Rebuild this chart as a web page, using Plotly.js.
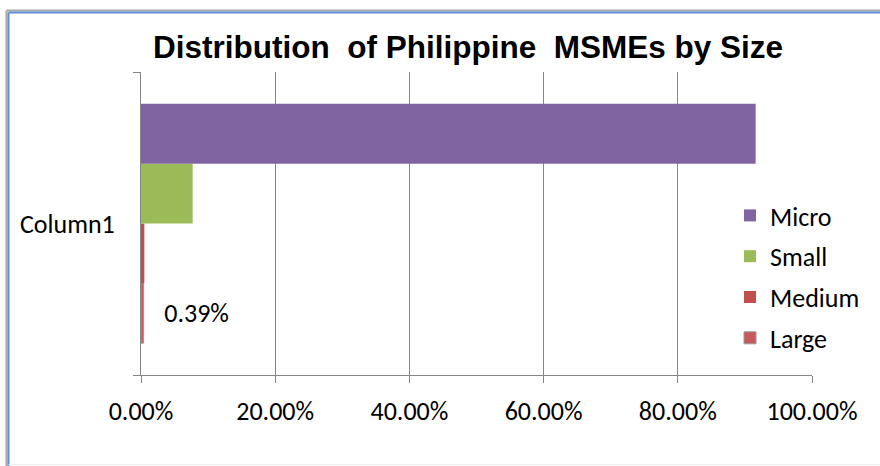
<!DOCTYPE html>
<html>
<head>
<meta charset="utf-8">
<script src="https://cdn.plot.ly/plotly-3.0.1.min.js"></script>
<style>html,body{margin:0;padding:0;background:#fff;}#chart{width:880px;height:466px;}</style>
</head>
<body>
<div id="chart"></div>
<script>
const categories = ['Column1'];
const seriesNames = ['Micro', 'Small', 'Medium', 'Large'];
const microValues = [0.916];
const smallValues = [0.077];
const mediumValues = [0.005];
const largeValues = [0.0039];
const largeLabels = ['0.39%'];
const xTickValues = [0, 0.2, 0.4, 0.6, 0.8, 1.0];
const xTickLabels = ['0.00%', '20.00%', '40.00%', '60.00%', '80.00%', '100.00%'];

const colors = {Micro: '#8064A2', Small: '#9BBB59', Medium: '#C0504D', Large: '#C65A5E'};
const legendRanks = {Micro: 1, Small: 2, Medium: 3, Large: 4};
const tickFont = {family: 'Carlito, "Liberation Sans Narrow", "Liberation Sans", Arial, sans-serif', size: 26, color: '#000'};

function barTrace(name, values, extra) {
  return Object.assign({
    type: 'bar', orientation: 'h', name: name, legendgroup: name,
    legendrank: legendRanks[name],
    x: values, y: categories,
    marker: {color: colors[name]},
    hoverinfo: 'skip'
  }, extra || {});
}

const traces = [
  barTrace('Large', largeValues, {
    marker: {color: colors.Large, line: {color: '#9a9a9a', width: 1}},
    text: largeLabels.map(t => '\u00a0\u00a0\u00a0' + t),
    textposition: 'outside', cliponaxis: false,
    textfont: tickFont
  }),
  barTrace('Medium', mediumValues),
  barTrace('Small', smallValues),
  barTrace('Micro', microValues)
];

const L = 141, R = 812, T = 72, B = 375;
function px2x(p) { return (p - L) / (R - L); }
function px2y(p) { return 1 - (p - T) / (B - T); }

const layout = {
  width: 880, height: 466,
  margin: {l: L, r: 880 - R, t: T, b: 466 - B, pad: 0},
  paper_bgcolor: '#fff', plot_bgcolor: 'rgba(0,0,0,0)',
  barmode: 'group', bargap: 0.21, bargroupgap: 0,
  showlegend: true,
  title: {
    text: 'Distribution  of Philippine  MSMEs by Size',
    font: {family: '"Liberation Sans", Arial, sans-serif', size: 31.5, color: '#000', weight: 'bold'},
    x: 468 / 880, xanchor: 'center', xref: 'container',
    y: 1 - 47 / 466, yanchor: 'middle', yref: 'container'
  },
  xaxis: {
    range: [0, 1], fixedrange: true,
    tickvals: xTickValues, ticktext: xTickLabels,
    showgrid: true, gridcolor: '#868686', gridwidth: 1,
    showline: true, linecolor: '#868686', linewidth: 1,
    ticks: 'outside', ticklen: 7, tickcolor: '#868686',
    tickfont: tickFont, ticklabelstandoff: 6,
    zeroline: false
  },
  yaxis: {
    type: 'category', fixedrange: true,
    showline: true, linecolor: '#868686', linewidth: 1,
    ticks: 'outside', ticklen: 7, tickcolor: '#868686', tickson: 'boundaries',
    tickfont: tickFont, ticklabelstandoff: 20,
    showgrid: false, zeroline: false
  },
  legend: {
    x: px2x(730), xanchor: 'left', y: px2y(192), yanchor: 'top',
    bgcolor: 'rgba(0,0,0,0)', borderwidth: 0,
    traceorder: 'grouped', tracegroupgap: 4,
    font: tickFont, itemwidth: 30
  },
  shapes: [
    {type: 'line', xref: 'paper', yref: 'paper', x0: px2x(6.5), x1: px2x(880), y0: px2y(10.5), y1: px2y(10.5), line: {color: '#a8a8a8', width: 2}},
    {type: 'line', xref: 'paper', yref: 'paper', x0: px2x(8.5), x1: px2x(880), y0: px2y(12.5), y1: px2y(12.5), line: {color: '#5b8fd8', width: 2}},
    {type: 'line', xref: 'paper', yref: 'paper', x0: px2x(6.5), x1: px2x(6.5), y0: px2y(10.5), y1: px2y(466), line: {color: '#a8a8a8', width: 2}},
    {type: 'line', xref: 'paper', yref: 'paper', x0: px2x(8.5), x1: px2x(8.5), y0: px2y(12.5), y1: px2y(466), line: {color: '#5b8fd8', width: 2}},
    {type: 'line', xref: 'paper', yref: 'paper', x0: px2x(8.5), x1: px2x(880), y0: px2y(464.5), y1: px2y(464.5), line: {color: '#eeeeee', width: 1}}
  ]
};

Plotly.newPlot('chart', traces, layout, {displayModeBar: false, staticPlot: true});
</script>
</body>
</html>
